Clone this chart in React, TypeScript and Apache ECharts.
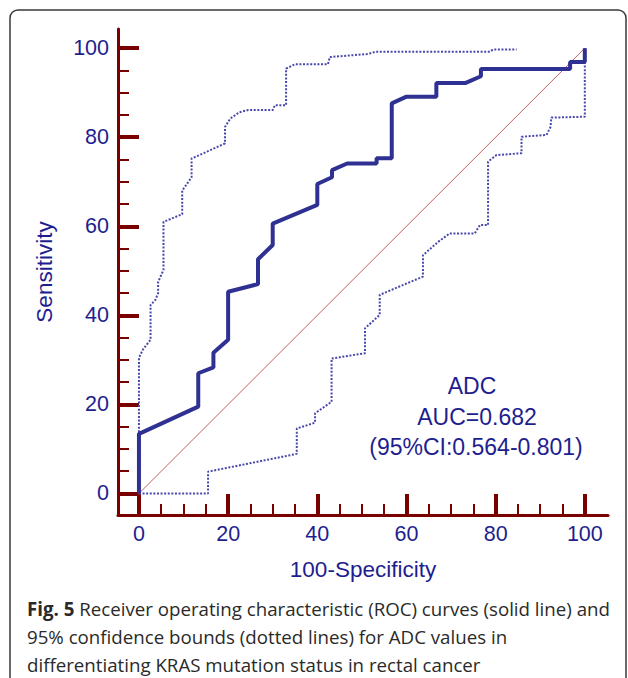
import React, { useEffect, useRef } from "react";
import * as echarts from "echarts";

// ROC curve (100-Specificity, Sensitivity)
const rocCurve: [number, number][] = [
  [0, 0], [0, 13.4], [13.3, 19.5], [13.3, 27.0], [16.7, 28.3], [16.7, 31.6],
  [20.0, 34.5], [20.0, 45.3], [26.7, 47.0], [26.7, 52.6], [30.0, 55.8], [30.0, 60.6],
  [40.0, 64.8], [40.0, 69.5], [43.3, 71.0], [43.3, 72.6], [46.7, 74.1], [53.3, 74.1],
  [53.3, 75.3], [56.7, 75.3], [56.7, 87.6], [60.0, 89.1], [66.7, 89.1], [66.7, 92.2],
  [73.3, 92.2], [76.7, 93.7], [76.7, 95.3], [96.7, 95.3], [96.7, 96.9], [100, 96.9],
  [100, 100],
];

// Upper 95% confidence bound
const upperBound: [number, number][] = [
  [0, 0], [0, 30.5], [1.0, 32.5], [2.6, 34.5], [2.6, 42.3], [3.7, 43.5], [4.3, 45.0],
  [4.3, 47.5], [5.5, 50.2], [5.5, 61.0], [9.7, 62.7], [9.7, 68.0], [11.8, 71.0],
  [11.8, 75.2], [19.3, 78.6], [19.3, 82.3], [20.5, 84.2], [22.5, 85.6], [24.5, 86.1],
  [30.0, 86.1], [30.5, 87.2], [33.0, 87.2], [33.0, 95.4], [35.0, 96.4], [42.4, 96.4],
  [42.8, 98.0], [51.4, 98.7], [53.1, 99.2], [78.7, 99.2], [79.4, 99.7], [84.7, 99.7],
];

// Lower 95% confidence bound
const lowerBound: [number, number][] = [
  [0, 0], [15.5, 0], [15.5, 4.9], [35.4, 8.9], [35.4, 14.6], [39.5, 15.9], [39.5, 18.0],
  [43.2, 20.6], [43.2, 30.3], [50.7, 31.5], [50.7, 37.1], [54.0, 40.1], [54.0, 44.6],
  [63.7, 48.7], [63.7, 53.5], [67.1, 56.5], [69.7, 58.4], [75.3, 58.4], [76.5, 60.3],
  [78.3, 60.3], [78.3, 74.5], [80.2, 76.0], [85.8, 76.4], [85.8, 80.1], [91.4, 80.5],
  [92.3, 82.3], [92.5, 84.4], [100, 84.6], [100, 100],
];

const diagonal: [number, number][] = [[0, 0], [100, 100]];

const majorTicks = [0, 20, 40, 60, 80, 100];
const minorTicks = [5, 10, 15, 25, 30, 35, 45, 50, 55, 65, 70, 75, 85, 90, 95];

const xTitle = "100-Specificity";
const yTitle = "Sensitivity";
const annotation = ["ADC", "AUC=0.682", "(95%CI:0.564-0.801)"];
const captionLines = [
  "{b|Fig. 5} Receiver operating characteristic (ROC) curves (solid line) and",
  "95% confidence bounds (dotted lines) for ADC values in",
  "differentiating KRAS mutation status in rectal cancer",
];

const AXIS_RED = "#7A0000";
const LABEL_BLUE = "#1E1E8E";
const SANS = "'Liberation Sans', Arial, sans-serif";
const CAPTION_FONT = "'Open Sans', sans-serif";

const X_MIN = -4.7;
const X_MAX = 105.2;
const Y_MIN = -4.83;
const Y_MAX = 104.3;

function majorAxis(kind: "x" | "y") {
  const isX = kind === "x";
  return {
    type: "value",
    min: isX ? X_MIN : Y_MIN,
    max: isX ? X_MAX : Y_MAX,
    position: isX ? "bottom" : "left",
    axisLine: { show: true, onZero: false, lineStyle: { color: AXIS_RED, width: 3 } },
    axisTick: {
      show: true,
      inside: true,
      length: 21,
      customValues: majorTicks,
      lineStyle: { color: AXIS_RED, width: 4 },
    },
    axisLabel: {
      show: true,
      customValues: majorTicks,
      color: LABEL_BLUE,
      fontSize: 21.5,
      fontFamily: SANS,
      margin: isX ? 8 : 9,
    },
    splitLine: { show: false },
    minorTick: { show: false },
    name: isX ? xTitle : yTitle,
    nameLocation: "middle",
    nameGap: isX ? 43 : 62,
    nameTextStyle: { color: LABEL_BLUE, fontSize: 22.5, fontFamily: SANS },
  };
}

function minorAxis(kind: "x" | "y") {
  const isX = kind === "x";
  return {
    type: "value",
    min: isX ? X_MIN : Y_MIN,
    max: isX ? X_MAX : Y_MAX,
    position: isX ? "bottom" : "left",
    offset: 0,
    axisLine: { show: false, onZero: false },
    axisTick: {
      show: true,
      inside: true,
      length: 11,
      customValues: minorTicks,
      lineStyle: { color: AXIS_RED, width: 2 },
    },
    axisLabel: { show: false },
    splitLine: { show: false },
  };
}

export default function App() {
  const ref = useRef<HTMLDivElement>(null);

  useEffect(() => {
    if (!ref.current) return;
    const chart = echarts.init(ref.current, undefined, { renderer: "svg" });

    const annotationY = [386, 417, 447];
    const annotationX = [472, 477, 476];

    chart.setOption({
      animation: false,
      backgroundColor: "#ffffff",
      grid: { left: 118, right: 20, top: 29, bottom: 163, containLabel: false },
      xAxis: [majorAxis("x"), minorAxis("x")],
      yAxis: [majorAxis("y"), minorAxis("y")],
      series: [
        {
          type: "line",
          data: diagonal,
          symbol: "none",
          lineStyle: { color: "#C46060", width: 1 },
          z: 1,
        },
        {
          type: "line",
          data: upperBound,
          symbol: "none",
          lineStyle: { color: "#4848AA", width: 2, type: [2, 1.6] },
          z: 2,
        },
        {
          type: "line",
          data: lowerBound,
          symbol: "none",
          lineStyle: { color: "#4848AA", width: 2, type: [2, 1.6] },
          z: 2,
        },
        {
          type: "line",
          data: rocCurve,
          symbol: "none",
          lineStyle: { color: "#2E3192", width: 4 },
          z: 3,
        },
      ],
      graphic: [
        {
          type: "rect",
          shape: { x: 10, y: 10, width: 616, height: 720, r: 8 },
          style: { fill: "none", stroke: "#3a3a3a", lineWidth: 1.5 },
          silent: true,
        },
        ...annotation.map((t, i) => ({
          type: "text",
          x: annotationX[i],
          y: annotationY[i],
          style: {
            text: t,
            fill: LABEL_BLUE,
            font: `23px ${SANS}`,
            align: "center",
            verticalAlign: "middle",
          },
        })),
        ...captionLines.map((t, i) => ({
          type: "text",
          x: 27,
          y: 608 + i * 28,
          style: {
            text: t,
            fill: "#2a2a2a",
            fontSize: 18.7,
            fontFamily: CAPTION_FONT,
            align: "left",
            verticalAlign: "middle",
            rich: {
              b: {
                fontWeight: "bold",
                fontSize: 18.7,
                fontFamily: CAPTION_FONT,
                fill: "#2a2a2a",
              },
            },
          },
        })),
      ],
    });

    return () => chart.dispose();
  }, []);

  return (
    <div
      ref={ref}
      style={{ position: "fixed", left: 0, top: 0, width: 628, height: 678 }}
    />
  );
}
